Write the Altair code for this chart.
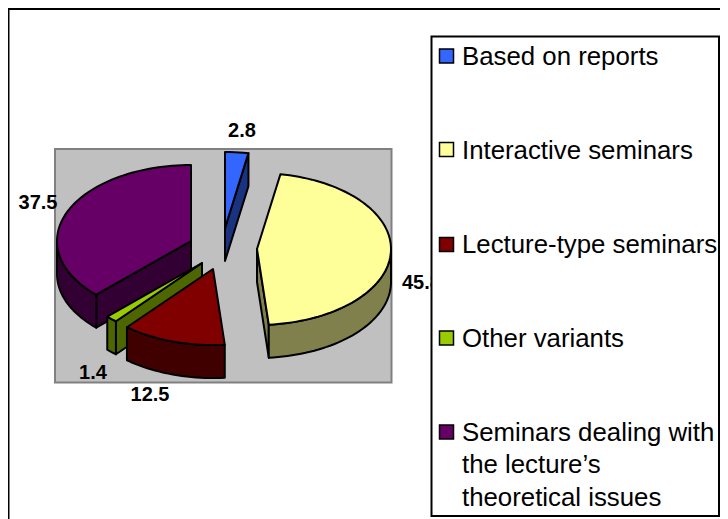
import math
import altair as alt
import pandas as pd

# ---- data ----
categories = ["Based on reports", "Interactive seminars", "Lecture-type seminars",
              "Other variants", "Seminars dealing with"]
values = [2.8, 45.8, 12.5, 1.4, 37.5]
label_text = ["2.8", "45.8", "12.5", "1.4", "37.5"]
extra_legend_lines = ["the lecture\u2019s", "theoretical issues"]

# ---- styles / layout ----
top_colors = ["#3366FF", "#FFFF99", "#800000", "#99CC00", "#660066"]
side_colors = ["#1A3380", "#80804D", "#400000", "#4D6600", "#330033"]
apex_x = [225, 257, 213, 202, 191]
apex_y = [228, 249, 269, 263, 241]
label_x = [242, 402, 150, 93, 38]
label_y = [130.5, 283, 395, 373, 203]
label_align = ["center", "left", "center", "center", "center"]
legend_y = [56, 149.5, 244.5, 338, 432]
legend_text_y = [57.2, 151.2, 244.5, 339, 432.5, 465, 497.5]
RX, RY, DEPTH = 134, 76, 33
draw_order = [0, 1, 4, 3, 2]
MARGIN = 8
W, H = 712, 511


def pt(i, deg, drop=0):
    a = math.radians(deg)
    return [apex_x[i] + RX * math.sin(a), apex_y[i] - RY * math.cos(a) + drop]


def arc(i, a0, a1, drop=0):
    n = max(2, int(abs(a1 - a0) / 2) + 1)
    return [pt(i, a0 + (a1 - a0) * k / (n - 1), drop) for k in range(n)]


def feature(ring, fill):
    ring = ring + [ring[0]]
    return {"type": "Feature", "properties": {"fill": fill},
            "geometry": {"type": "Polygon", "coordinates": [ring]}}


total = sum(values)
starts, cum = [], 0.0
for v in values:
    starts.append(cum / total * 360)
    cum += v

features = []
for i in draw_order:
    a0 = starts[i]
    a1 = a0 + values[i] / total * 360
    apex = [apex_x[i], apex_y[i]]
    low = [apex_x[i], apex_y[i] + DEPTH]
    # radial walls that face the viewer
    for ang in ([a1] if math.sin(math.radians(a1)) > 0.01 else []) + \
               ([a0] if math.sin(math.radians(a0)) < -0.01 else []):
        features.append(feature([apex, pt(i, ang), pt(i, ang, DEPTH), low], side_colors[i]))
    # outer rim, front half only
    f0, f1 = max(a0, 90), min(a1, 270)
    if f1 > f0:
        features.append(feature(arc(i, f0, f1) + arc(i, f1, f0, DEPTH), side_colors[i]))
    # top surface
    features.append(feature([apex] + arc(i, a0, a1), top_colors[i]))

X = alt.X("x:Q", axis=None, scale=alt.Scale(domain=[MARGIN, MARGIN + W], range=[0, W]))
Y = alt.Y("y:Q", axis=None, scale=alt.Scale(domain=[MARGIN, MARGIN + H], range=[0, H]))

plot_bg = alt.Chart(pd.DataFrame([{"x": 55, "x2": 391.5, "y": 149, "y2": 382.5}])).mark_rect(
    fill="#C0C0C0", stroke="#808080", strokeWidth=2
).encode(x=X, x2="x2:Q", y=Y, y2="y2:Q")

pie = alt.Chart(alt.Data(values=features)).mark_geoshape(
    stroke="black", strokeWidth=2, strokeJoin="round"
).encode(fill=alt.Fill("properties.fill:N", scale=None)).project(
    type="identity", scale=1, translate=[-MARGIN, -MARGIN]
)

labels = alt.Chart(pd.DataFrame({"x": label_x, "y": label_y, "t": label_text, "a": label_align}))
labels_c = labels.transform_filter("datum.a == 'center'").mark_text(
    font="Liberation Sans", fontSize=20, fontWeight="bold", color="black", align="center", baseline="middle"
).encode(x=X, y=Y, text="t:N")
labels_l = labels.transform_filter("datum.a == 'left'").mark_text(
    font="Liberation Sans", fontSize=20, fontWeight="bold", color="black", align="left", baseline="middle"
).encode(x=X, y=Y, text="t:N")

legend_box = alt.Chart(pd.DataFrame([{"x": 431.5, "x2": 719, "y": 36.5, "y2": 516}])).mark_rect(
    fill="white", stroke="black", strokeWidth=2
).encode(x=X, x2="x2:Q", y=Y, y2="y2:Q")

sw = pd.DataFrame({"x": [439.5] * 5, "x2": [453.5] * 5,
                   "y": [v - 7 for v in legend_y], "y2": [v + 7 for v in legend_y],
                   "c": top_colors})
swatches = alt.Chart(sw).mark_rect(stroke="black", strokeWidth=1.5).encode(
    x=X, x2="x2:Q", y=Y, y2="y2:Q", fill=alt.Fill("c:N", scale=None))

lt = pd.DataFrame({"x": [462] * 7,
                   "y": legend_text_y,
                   "t": categories + extra_legend_lines})
legend_text = alt.Chart(lt).mark_text(
    font="Liberation Sans", fontSize=25.8, color="black", align="left", baseline="middle"
).encode(x=X, y=Y, text="t:N")

frame_top = alt.Chart(pd.DataFrame([{"x": 8, "x2": 720, "y": 9}])).mark_rule(
    color="black", strokeWidth=2).encode(x=X, x2="x2:Q", y=Y)
frame_left = alt.Chart(pd.DataFrame([{"x": 8.5, "y": 8, "y2": 519}])).mark_rule(
    color="black", strokeWidth=2).encode(x=X, y=Y, y2="y2:Q")

chart = alt.layer(
    plot_bg, pie, labels_c, labels_l, legend_box, swatches, legend_text, frame_top, frame_left
).properties(
    width=W, height=H, padding=0, autosize=alt.AutoSizeParams(type="none"), background="white"
).configure_view(stroke=None)

chart.save("out.html", embed_options={"renderer": "svg", "actions": False})
